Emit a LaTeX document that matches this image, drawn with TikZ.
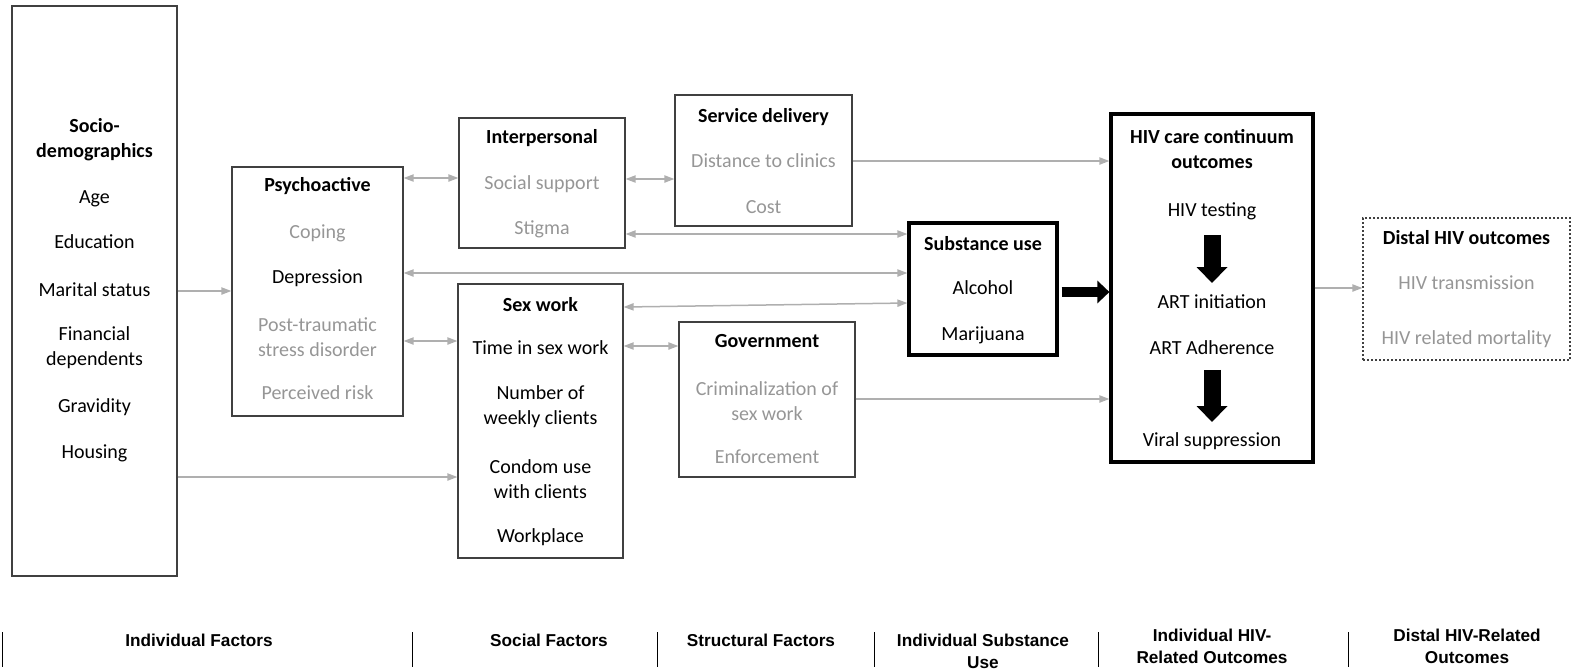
\documentclass[tikz,border=0pt]{standalone}
\usepackage{fontspec}
\setmainfont{Carlito}
\newfontfamily\bandfont{Liberation Sans}
\usepackage{tikz}
\usetikzlibrary{arrows.meta,fit}
\definecolor{boxline}{RGB}{64,64,64}
\definecolor{itemgray}{RGB}{150,150,150}
\definecolor{linkgray}{RGB}{175,175,175}

\begin{document}
\begin{tikzpicture}[x=0.5pt,y=-0.5pt,
  font=\fontsize{10}{12.5}\selectfont,
  box/.style={draw=boxline,line width=0.6pt,inner sep=0pt},
  heavybox/.style={draw=black,line width=1.6pt,inner sep=0pt},
  distalbox/.style={draw=boxline,line width=0.6pt,dash pattern=on 1.2pt off 0.8pt,inner sep=0pt},
  head/.style={font=\fontsize{10}{12.5}\selectfont\bfseries,inner sep=0pt,align=center,yshift=-0.7pt},
  item/.style={inner sep=0pt,align=center,text height=7pt,text depth=2pt,yshift=-0.7pt},
  item2/.style={inner sep=0pt,align=center,yshift=-0.7pt},
  faint/.style={text=itemgray},
  oneway/.style={draw=linkgray,line width=0.75pt,-{Triangle[length=5pt,width=3.6pt]}},
  twoway/.style={draw=linkgray,line width=0.75pt,{Triangle[length=5pt,width=3.6pt]}-{Triangle[length=5pt,width=3.6pt]}},
  fatarrow/.style={draw=black,line width=5pt,-{Triangle[length=6pt,width=11pt]}},
  downarrow/.style={draw=black,line width=8.5pt,-{Triangle[length=8pt,width=15pt]}},
  bandlabel/.style={font=\bandfont\fontsize{8.6}{11}\selectfont\bfseries,inner sep=0pt,align=center}]
\useasboundingbox (0,0) rectangle (1574,671);

\node[box,fit={(12,6) (177,576)}] (soc) {};
\node[box,fit={(232,167) (403,416)}] (psy) {};
\node[box,fit={(459,118) (625,248)}] (inter) {};
\node[box,fit={(675,95) (852,226)}] (serv) {};
\node[box,fit={(458,284) (623,558)}] (sw) {};
\node[box,fit={(679,322) (855,477)}] (gov) {};
\node[heavybox,fit={(909,223) (1057,355)}] (sub) {};
\node[heavybox,fit={(1111,114) (1313,462)}] (hiv) {};
\node[distalbox,fit={(1363,218) (1570,360)}] (dist) {};

\node[head] (soc-h) at (94.5,138.5) {Socio-\\demographics};
\node[item] (soc-1) at (94.5,197) {Age};
\node[item] (soc-2) at (94.5,242) {Education};
\node[item] (soc-3) at (94.5,290) {Marital status};
\node[item2] (soc-4) at (94.5,346) {Financial\\dependents};
\node[item] (soc-5) at (94.5,406) {Gravidity};
\node[item] (soc-6) at (94.5,452) {Housing};

\node[head] (psy-h) at (317.5,185) {Psychoactive};
\node[item,faint] (psy-1) at (317.5,232) {Coping};
\node[item] (psy-2) at (317.5,277) {Depression};
\node[item2,faint] (psy-3) at (317.5,335.5) {Post-traumatic\\stress disorder};
\node[item,faint] (psy-4) at (317.5,393) {Perceived risk};

\node[head] (inter-h) at (542,137) {Interpersonal};
\node[item,faint] (inter-1) at (542,183) {Social support};
\node[item,faint] (inter-2) at (542,228) {Stigma};

\node[head] (serv-h) at (763.5,116) {Service delivery};
\node[item,faint] (serv-1) at (763.5,161) {Distance to clinics};
\node[item,faint] (serv-2) at (763.5,207) {Cost};

\node[head] (sw-h) at (540.5,303) {Sex work};
\node[item] (sw-1) at (540.5,348) {Time in sex work};
\node[item2] (sw-2) at (540.5,405.5) {Number of\\weekly clients};
\node[item2] (sw-3) at (540.5,477.5) {Condom use\\with clients};
\node[item] (sw-4) at (540.5,536) {Workplace};

\node[head] (gov-h) at (767,340) {Government};
\node[item2,faint] (gov-1) at (767,399.5) {Criminalization of\\sex work};
\node[item,faint] (gov-2) at (767,457) {Enforcement};

\node[head] (sub-h) at (983,242) {Substance use};
\node[item] (sub-1) at (983,288) {Alcohol};
\node[item] (sub-2) at (983,334) {Marijuana};

\node[head] (hiv-h) at (1212,147.5) {HIV care continuum\\outcomes};
\node[item] (hiv-1) at (1212,210) {HIV testing};
\node[item] (hiv-2) at (1212,302) {ART initiation};
\node[item] (hiv-3) at (1212,348) {ART Adherence};
\node[item] (hiv-4) at (1212,440) {Viral suppression};

\node[head] (dist-h) at (1466.5,236) {Distal HIV outcomes};
\node[item,faint] (dist-1) at (1466.5,283) {HIV transmission};
\node[item,faint] (dist-2) at (1466.5,338) {HIV related mortality};

\draw[oneway] (soc.east |- 0,291) -- (psy.west |- 0,291);
\draw[oneway] (soc.east |- 0,477) -- (sw.west |- 0,477);
\draw[twoway] (psy.east |- 0,178) -- (inter.west |- 0,178);
\draw[twoway] (psy.east |- 0,341) -- (sw.west |- 0,341);
\draw[twoway] (psy.east |- 0,273) -- (sub.west |- 0,273);
\draw[twoway] (inter.east |- 0,179) -- (serv.west |- 0,179);
\draw[twoway] (inter.east |- 0,234) -- (sub.west |- 0,234);
\draw[twoway] (sw.east |- 0,307) -- (sub.west |- 0,303);
\draw[twoway] (sw.east |- 0,346) -- (gov.west |- 0,346);
\draw[oneway] (serv.east |- 0,161) -- (hiv.west |- 0,161);
\draw[oneway] (gov.east |- 0,399) -- (hiv.west |- 0,399);
\draw[oneway] (hiv.east |- 0,288) -- (dist.west |- 0,288);
\draw[fatarrow,shorten <=1.5pt] (sub.east |- 0,292) -- (hiv.west |- 0,292);
\draw[downarrow,shorten <=7pt,shorten >=5.5pt] (hiv-1) -- (hiv-2);
\draw[downarrow,shorten <=5.5pt,shorten >=5pt] (hiv-3) -- (hiv-4);

\foreach \x in {2,412,657,874,1098,1348}
  \draw[line width=0.5pt] (\x,632) -- (\x,667);
\node[bandlabel] (band-1) at (199,640) {Individual Factors};
\node[bandlabel] (band-2) at (549,640) {Social Factors};
\node[bandlabel] (band-3) at (761,640) {Structural Factors};
\node[bandlabel] (band-4) at (983,651) {Individual Substance\\Use};
\node[bandlabel] (band-5) at (1212,646) {Individual HIV-\\Related Outcomes};
\node[bandlabel] (band-6) at (1467,646) {Distal HIV-Related\\Outcomes};
\end{tikzpicture}
\end{document}
